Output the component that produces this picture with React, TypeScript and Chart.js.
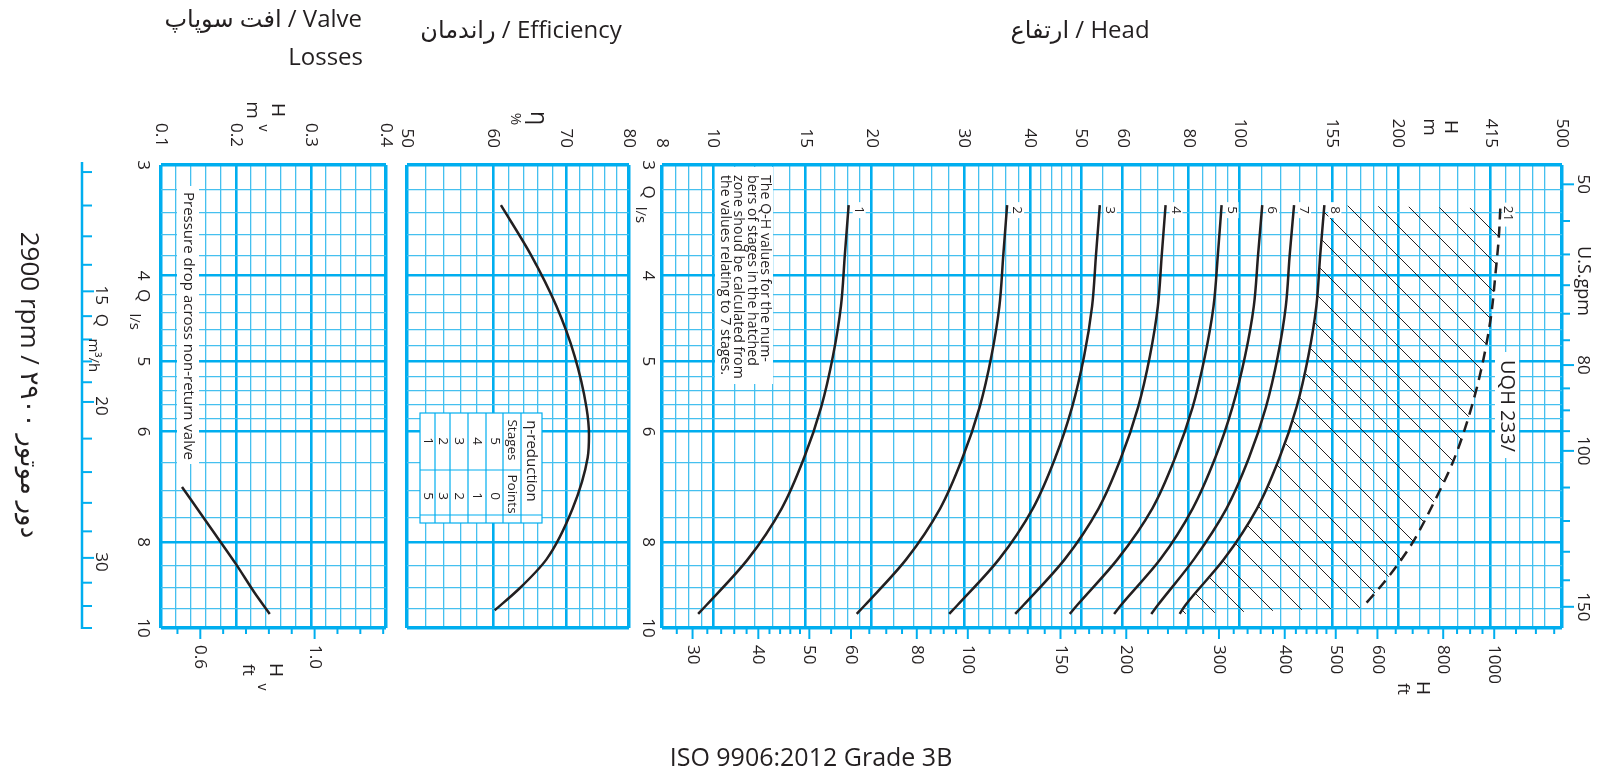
import React, { useEffect, useRef } from 'react';
import { Chart, registerables } from 'chart.js';

Chart.register(...registerables);

const PAGE_W = 1597;
const PAGE_H = 775;
const FONT = "'Open Sans', 'DejaVu Sans', sans-serif";
const INK = '#231f20';
const BLUE = '#00aeef';
const BLUE_THIN = '#45c0ef';
const FT = 0.3048; // m per ft
const GPM = 15.85; // US gpm per l/s
const M3H = 3.6; // m3/h per l/s

// ---------- Flow axis (l/s), shared by all panels ----------
const flowMin = 3;
const flowMax = 10;
const flowMajor = [4, 5, 6, 8];
const flowMinor = [3.2, 3.4, 3.6, 3.8, 4.2, 4.4, 4.6, 4.8, 5.2, 5.4, 5.6, 5.8, 6.5, 7, 7.5, 8.5, 9, 9.5];
const flowLabelValues = [3, 4, 5, 6, 8, 10];
const flowLabelTexts = ['3', '4', '5', '6', '8', '10'];
const m3hTicks = [11, 12, 13, 14, 15, 16, 17, 18, 19, 20, 22, 24, 26, 28, 30, 32, 34, 36];
const m3hLabelValues = [15, 20, 30];
const gpmTicks = [50, 55, 60, 65, 70, 75, 80, 85, 90, 95, 100, 110, 120, 130, 140, 150];
const gpmLabelValues = [50, 80, 100, 150];

// ---------- Head axis (m) ----------
const headMin = 8;
const headMax = 410;
const headMajor = [10, 15, 20, 30, 40, 50, 60, 80, 100, 150, 200, 300];
const headMinor = [8.5, 9, 9.5, 11, 12, 13, 14, 16, 17, 18, 19, 22, 24, 26, 28, 32, 34, 36, 38, 42, 44, 46, 48, 55, 65, 70, 75, 85, 90, 95, 110, 120, 130, 140, 160, 170, 180, 190, 220, 240, 260, 280, 320, 340, 360, 380];
const headLabelValues = [8, 10, 15, 20, 30, 40, 50, 60, 80, 100, 150, 200, 300, 410];
const headLabelTexts = ['8', '10', '15', '20', '30', '40', '50', '60', '80', '100', '155', '200', '415', '500'];
const ftTicks = [28, 30, 32, 34, 36, 38, 40, 42, 44, 46, 48, 50, 55, 60, 65, 70, 75, 80, 85, 90, 95, 100, 110, 120, 130, 140, 150, 160, 170, 180, 190, 200, 220, 240, 260, 280, 300, 320, 340, 360, 380, 400, 420, 440, 460, 480, 500, 550, 600, 650, 700, 750, 800, 850, 900, 950, 1000, 1100, 1200, 1300];
const ftLabelValues = [30, 40, 50, 60, 80, 100, 150, 200, 300, 400, 500, 600, 800, 1000];

// ---------- Efficiency axis (%) ----------
const effMin = 50;
const effMax = 80;
const effMajor = [60, 70];
const effMinor = [52, 54, 56, 58, 62, 64, 66, 68, 72, 74, 76, 78];
const effLabelValues = [50, 60, 70, 80];

// ---------- Valve loss axis (m) ----------
const valveMin = 0.1;
const valveMax = 0.4;
const valveMajor = [0.2, 0.3];
const valveMinor = [0.12, 0.14, 0.16, 0.18, 0.22, 0.24, 0.26, 0.28, 0.32, 0.34, 0.36, 0.38];
const valveLabelValues = [0.1, 0.2, 0.3, 0.4];
const valveLabelTexts = ['0.1', '0.2', '0.3', '0.4'];
const valveFtTicks = [0.4, 0.5, 0.6, 0.7, 0.8, 0.9, 1.0, 1.1, 1.2, 1.3];
const valveFtLabelValues = [0.5, 1.0];
const valveFtLabelTexts = ['0.6', '1.0'];

// ---------- Data ----------
const flowQ = [3.33, 3.79, 4.33, 4.93, 5.63, 6.42, 7.33, 8.36, 9.42, 9.64];
const stage1 = [18.1, 17.8, 17.5, 16.9, 16.05, 14.9, 13.5, 11.65, 9.72, 9.37];
const stage2 = [36.2, 35.6, 35.0, 33.8, 32.1, 29.8, 27.0, 23.3, 19.45, 18.75];
const stage3 = [54.3, 53.4, 52.5, 50.7, 48.1, 44.7, 40.5, 34.95, 29.15, 28.1];
const stage4 = [72.4, 71.2, 70.0, 67.6, 64.2, 59.6, 54.0, 46.6, 38.9, 37.5];
const stage5 = [92.5, 91.0, 89.3, 86.0, 81.5, 75.5, 68.3, 58.7, 49.2, 47.6];
const stage6 = [110.5, 108.5, 106.5, 102.5, 97.0, 90.0, 81.5, 70.8, 59.6, 57.8];
const stage7 = [127.0, 124.6, 122.5, 118.3, 112.3, 104.3, 94.5, 82.0, 70.0, 68.0];
const stage8 = [145.0, 142.4, 140.0, 135.2, 128.4, 119.2, 108.0, 93.5, 79.0, 77.0];
const stageNames = ['1', '2', '3', '4', '5', '6', '7', '8'];
const limitQ = [3.36, 3.62, 3.94, 4.48, 5.15, 5.84, 6.51, 7.22, 8.02, 8.44, 8.89, 9.49];
const limitH = [313, 311, 307, 300, 287, 271, 254, 234, 213, 201, 188, 171];
const limitName = '21';
const effQ = [3.33, 3.79, 4.33, 4.93, 5.63, 6.05, 6.42, 7.33, 8.36, 9.03, 9.55];
const effPct = [61.0, 65.0, 68.6, 71.3, 73.1, 73.5, 73.3, 71.0, 67.2, 63.4, 60.2];
const valveQ = [6.93, 7.66, 8.47, 9.13, 9.64];
const valveHv = [0.128, 0.164, 0.2, 0.225, 0.245];
const reductionStages = ['5', '4', '3', '2', '1'];
const reductionPoints = ['0', '1', '2', '3', '5'];
const noteLines = [
  'The Q-H values for the num-',
  'bers of stages in the hatched',
  'zone shoud be calculated from',
  'the values relating to 7 stages.',
];

// ---------- helpers ----------
const near = (arr: number[], v: number) => arr.some((m) => Math.abs(m - v) < 1e-6 * Math.max(1, Math.abs(m)));

function rtext(ctx: any, text: string, x: number, y: number, size: number, align: CanvasTextAlign = 'center', color = INK) {
  ctx.save();
  ctx.translate(x, y);
  ctx.rotate(Math.PI / 2);
  ctx.font = `${size}px ${FONT}`;
  ctx.textAlign = align;
  ctx.textBaseline = 'middle';
  ctx.fillStyle = color;
  ctx.fillText(text, 0, 0);
  ctx.restore();
}

function htext(ctx: any, text: string, x: number, y: number, size: number, align: CanvasTextAlign = 'center') {
  ctx.save();
  ctx.font = `${size}px ${FONT}`;
  ctx.textAlign = align;
  ctx.textBaseline = 'middle';
  ctx.fillStyle = INK;
  ctx.fillText(text, x, y);
  ctx.restore();
}

function seg(ctx: any, x1: number, y1: number, x2: number, y2: number, color = BLUE, w = 2) {
  ctx.save();
  ctx.strokeStyle = color;
  ctx.lineWidth = w;
  ctx.beginPath();
  ctx.moveTo(x1, y1);
  ctx.lineTo(x2, y2);
  ctx.stroke();
  ctx.restore();
}

function whiteBox(ctx: any, x: number, y: number, w: number, h: number) {
  ctx.save();
  ctx.fillStyle = '#fff';
  ctx.fillRect(x, y, w, h);
  ctx.restore();
}

function gridFor(majors: number[], edges: number[]) {
  return {
    drawTicks: false,
    color: (c: any) => (c.tick && !near(majors, c.tick.value) && !near(edges, c.tick.value) ? BLUE_THIN : BLUE),
    lineWidth: (c: any) => {
      if (!c.tick) return 1;
      const v = c.tick.value;
      return near(edges, v) ? 3.5 : near(majors, v) ? 2.6 : 1.3;
    },
  };
}

function axis(type: string, min: number, max: number, position: string, majors: number[], minors: number[], reverse = false) {
  const values = [min, ...majors, ...minors, max];
  return {
    type,
    min,
    max,
    position,
    reverse,
    afterBuildTicks: (s: any) => {
      s.ticks = values.map((v) => ({ value: v }));
    },
    ticks: { display: false },
    grid: gridFor(majors, [min, max]),
    border: { display: false },
  };
}

function curve(xs: number[], qs: number[], extra: any = {}) {
  return {
    data: xs.map((v, i) => ({ x: v, y: qs[i] })),
    borderColor: INK,
    backgroundColor: INK,
    borderWidth: 2.5,
    pointRadius: 0,
    cubicInterpolationMode: 'monotone',
    fill: false,
    ...extra,
  };
}

function config(pad: any, xAxis: any, datasets: any[], plugin: any) {
  return {
    type: 'line',
    data: { datasets },
    options: {
      indexAxis: 'y',
      responsive: false,
      animation: false,
      devicePixelRatio: 1,
      events: [],
      layout: { padding: pad },
      plugins: { legend: { display: false }, tooltip: { enabled: false } },
      scales: {
        x: xAxis,
        y: axis('logarithmic', flowMin, flowMax, 'left', flowMajor, flowMinor, true),
      },
    },
    plugins: [plugin],
  };
}

function pointsOf(chart: any, idx: number) {
  const meta = chart.getDatasetMeta(idx);
  if (meta.dataset && meta.dataset.updateControlPoints) meta.dataset.updateControlPoints(chart.chartArea, 'y');
  return meta.data as any[];
}

function trace(ctx: any, pts: any[], reverse: boolean) {
  const p = reverse ? pts.slice().reverse() : pts;
  for (let i = 1; i < p.length; i++) {
    const a = p[i - 1];
    const b = p[i];
    const c1x = reverse ? a.cp1x : a.cp2x;
    const c1y = reverse ? a.cp1y : a.cp2y;
    const c2x = reverse ? b.cp2x : b.cp1x;
    const c2y = reverse ? b.cp2y : b.cp1y;
    if ([c1x, c1y, c2x, c2y].some((v) => v === undefined || isNaN(v))) ctx.lineTo(b.x, b.y);
    else ctx.bezierCurveTo(c1x, c1y, c2x, c2y, b.x, b.y);
  }
}

// ---------- plugins ----------
const valveDecor = {
  id: 'valveDecor',
  beforeDatasetsDraw(chart: any) {
    const ctx = chart.ctx;
    whiteBox(ctx, 177, 186, 22, 278);
    rtext(ctx, 'Pressure drop across non-return valve', 188, 192, 15, 'left');
  },
  afterDraw(chart: any) {
    const ctx = chart.ctx;
    const xs = chart.scales.x;
    const ys = chart.scales.y;
    htext(ctx, 'افت سوپاپ / Valve', 362, 20, 24, 'right');
    htext(ctx, 'Losses', 363, 58, 24, 'right');
    htext(ctx, 'ISO 9906:2012 Grade 3B', 811, 759, 25, 'center');
    rtext(ctx, '2900 rpm / دور موتور ۲۹۰۰', 28, 385, 26);
    valveLabelValues.forEach((v, i) => rtext(ctx, valveLabelTexts[i], xs.getPixelForValue(v), 147, 17, 'right'));
    rtext(ctx, 'H', 277, 110, 19);
    rtext(ctx, 'v', 263, 128, 14);
    rtext(ctx, 'm', 252, 110, 19);
    valveFtTicks.forEach((ft) => {
      const px = xs.getPixelForValue(ft * FT);
      seg(ctx, px, 628, px, near(valveFtLabelValues, ft) ? 639 : 634, BLUE, 2);
    });
    valveFtLabelValues.forEach((ft, i) => rtext(ctx, valveFtLabelTexts[i], xs.getPixelForValue(ft * FT), 645, 17, 'left'));
    rtext(ctx, 'H', 275, 670, 19);
    rtext(ctx, 'ft', 248, 670, 17);
    rtext(ctx, 'v', 262, 687, 14);
    flowLabelValues.forEach((q, i) => rtext(ctx, flowLabelTexts[i], 143, ys.getPixelForValue(q), 17));
    const y4 = ys.getPixelForValue(4);
    rtext(ctx, 'Q', 143, y4 + 20, 17);
    rtext(ctx, 'l/s', 134, y4 + 46, 15);
    seg(ctx, 82, 162, 82, 629, BLUE, 2.5);
    m3hTicks.forEach((v) => {
      const py = ys.getPixelForValue(v / M3H);
      seg(ctx, 82, py, near(m3hLabelValues, v) ? 94 : 92, py, BLUE, 2);
    });
    m3hLabelValues.forEach((v) => rtext(ctx, String(v), 101, ys.getPixelForValue(v / M3H) + 4, 17));
    const y15 = ys.getPixelForValue(15 / M3H);
    rtext(ctx, 'Q', 101, y15 + 29, 17);
    rtext(ctx, 'm³/h', 93, y15 + 64, 15);
  },
};

const effDecor = {
  id: 'effDecor',
  beforeDatasetsDraw(chart: any) {
    const ctx = chart.ctx;
    const L = 420, R = 542, T = 413, B = 523;
    whiteBox(ctx, L, T, R - L, B - T);
    ctx.save();
    ctx.strokeStyle = BLUE;
    ctx.lineWidth = 1.2;
    ctx.strokeRect(L, T, R - L, B - T);
    ctx.beginPath();
    [435, 450, 468, 486, 503, 521].forEach((x) => {
      ctx.moveTo(x, T);
      ctx.lineTo(x, B);
    });
    ctx.moveTo(L, 470);
    ctx.lineTo(521, 470);
    ctx.moveTo(L, 515);
    ctx.lineTo(R, 515);
    ctx.stroke();
    ctx.restore();
    rtext(ctx, 'η-reduction', 531, 461, 15);
    rtext(ctx, 'Stages', 512, 440, 13.5);
    rtext(ctx, 'Points', 512, 494, 13.5);
    const cols = [494.5, 477, 459, 442.5, 427.5];
    reductionStages.forEach((s, i) => rtext(ctx, s, cols[i], 441, 13.5));
    reductionPoints.forEach((s, i) => rtext(ctx, s, cols[i], 496, 13.5));
  },
  afterDraw(chart: any) {
    const ctx = chart.ctx;
    const xs = chart.scales.x;
    htext(ctx, 'راندمان / Efficiency', 521, 31, 24);
    effLabelValues.forEach((v) => rtext(ctx, String(v), xs.getPixelForValue(v), 148, 17, 'right'));
    rtext(ctx, 'η', 538, 118, 23);
    rtext(ctx, '%', 515, 119, 15);
  },
};

const headDecor = {
  id: 'headDecor',
  beforeDatasetsDraw(chart: any) {
    const ctx = chart.ctx;
    const p8 = pointsOf(chart, 7);
    const pl = pointsOf(chart, 8);
    if (p8.length && pl.length) {
      ctx.save();
      ctx.beginPath();
      ctx.moveTo(p8[0].x, p8[0].y);
      trace(ctx, p8, false);
      const last = pl[pl.length - 1];
      ctx.lineTo(last.x, last.y);
      trace(ctx, pl, true);
      ctx.closePath();
      ctx.clip();
      ctx.strokeStyle = INK;
      ctx.lineWidth = 1;
      ctx.beginPath();
      for (let c = -1322; c <= -500; c += 30) {
        ctx.moveTo(1100, 1100 + c);
        ctx.lineTo(1700, 1700 + c);
      }
      ctx.stroke();
      ctx.restore();
    }
    for (let i = 0; i < 8; i++) {
      const p = chart.getDatasetMeta(i).data[0];
      if (!p) continue;
      whiteBox(ctx, p.x + 4, p.y - 3, 13, 16);
      rtext(ctx, stageNames[i], p.x + 10, p.y + 5, 13.5);
    }
    const pt = pl[0];
    if (pt) {
      whiteBox(ctx, pt.x + 2, pt.y - 6, 13, 24);
      rtext(ctx, limitName, pt.x + 8, pt.y + 5, 13.5);
    }
    whiteBox(ctx, 715, 167, 58, 217);
    noteLines.forEach((t, i) => rtext(ctx, t, 765 - i * 13.3, 175, 14.2, 'left'));
    whiteBox(ctx, 1495, 352, 24, 106);
    rtext(ctx, 'UQH 233/', 1507, 360, 20, 'left');
  },
  afterDraw(chart: any) {
    const ctx = chart.ctx;
    const xs = chart.scales.x;
    const ys = chart.scales.y;
    htext(ctx, 'ارتفاع / Head', 1080, 31, 24);
    headLabelValues.forEach((v, i) => rtext(ctx, headLabelTexts[i], xs.getPixelForValue(v), 148, 17, 'right'));
    rtext(ctx, 'H', 1450, 127, 19);
    rtext(ctx, 'm', 1429, 127, 19);
    ftTicks.forEach((ft) => {
      const px = xs.getPixelForValue(ft * FT);
      seg(ctx, px, 628, px, near(ftLabelValues, ft) ? 639 : 634, BLUE, 2);
    });
    ftLabelValues.forEach((ft) => rtext(ctx, String(ft), xs.getPixelForValue(ft * FT), 645, 17, 'left'));
    rtext(ctx, 'H', 1422, 688, 19);
    rtext(ctx, 'ft', 1403, 689, 17);
    flowLabelValues.forEach((q, i) => rtext(ctx, flowLabelTexts[i], 648, ys.getPixelForValue(q), 17));
    const y3 = ys.getPixelForValue(3);
    rtext(ctx, 'Q', 648, y3 + 27, 17);
    rtext(ctx, 'l/s', 640, y3 + 50, 15);
    gpmTicks.forEach((g) => {
      const py = ys.getPixelForValue(g / GPM);
      seg(ctx, 1562, py, near(gpmLabelValues, g) ? 1574 : 1570, py, BLUE, 2);
    });
    gpmLabelValues.forEach((g) => rtext(ctx, String(g), 1583, ys.getPixelForValue(g / GPM), 17));
    rtext(ctx, 'U.S.gpm', 1583, 281, 18);
  },
};

// ---------- chart configs ----------
function valveConfig() {
  return config(
    { left: 161, right: PAGE_W - 386, top: 165, bottom: PAGE_H - 628 },
    axis('linear', valveMin, valveMax, 'top', valveMajor, valveMinor),
    [curve(valveHv, valveQ)],
    valveDecor,
  );
}

function effConfig() {
  return config(
    { left: 407, right: PAGE_W - 629, top: 165, bottom: PAGE_H - 628 },
    axis('logarithmic', effMin, effMax, 'top', effMajor, effMinor),
    [curve(effPct, effQ)],
    effDecor,
  );
}

function headConfig() {
  const stages = [stage1, stage2, stage3, stage4, stage5, stage6, stage7, stage8];
  return config(
    { left: 662, right: PAGE_W - 1562, top: 165, bottom: PAGE_H - 628 },
    axis('logarithmic', headMin, headMax, 'top', headMajor, headMinor),
    [...stages.map((s) => curve(s, flowQ)), curve(limitH, limitQ, { borderDash: [11, 7] })],
    headDecor,
  );
}

export default function App() {
  const valveRef = useRef<HTMLCanvasElement>(null);
  const effRef = useRef<HTMLCanvasElement>(null);
  const headRef = useRef<HTMLCanvasElement>(null);

  useEffect(() => {
    const charts: Chart[] = [];
    if (valveRef.current) charts.push(new Chart(valveRef.current, valveConfig() as any));
    if (effRef.current) charts.push(new Chart(effRef.current, effConfig() as any));
    if (headRef.current) charts.push(new Chart(headRef.current, headConfig() as any));
    return () => charts.forEach((c) => c.destroy());
  }, []);

  const cs: React.CSSProperties = { position: 'absolute', left: 0, top: 0, width: PAGE_W, height: PAGE_H };
  return (
    <div style={{ position: 'fixed', left: 0, top: 0, width: PAGE_W, height: PAGE_H, background: '#fff', overflow: 'hidden' }}>
      <canvas ref={valveRef} width={PAGE_W} height={PAGE_H} style={cs} />
      <canvas ref={effRef} width={PAGE_W} height={PAGE_H} style={cs} />
      <canvas ref={headRef} width={PAGE_W} height={PAGE_H} style={cs} />
    </div>
  );
}
